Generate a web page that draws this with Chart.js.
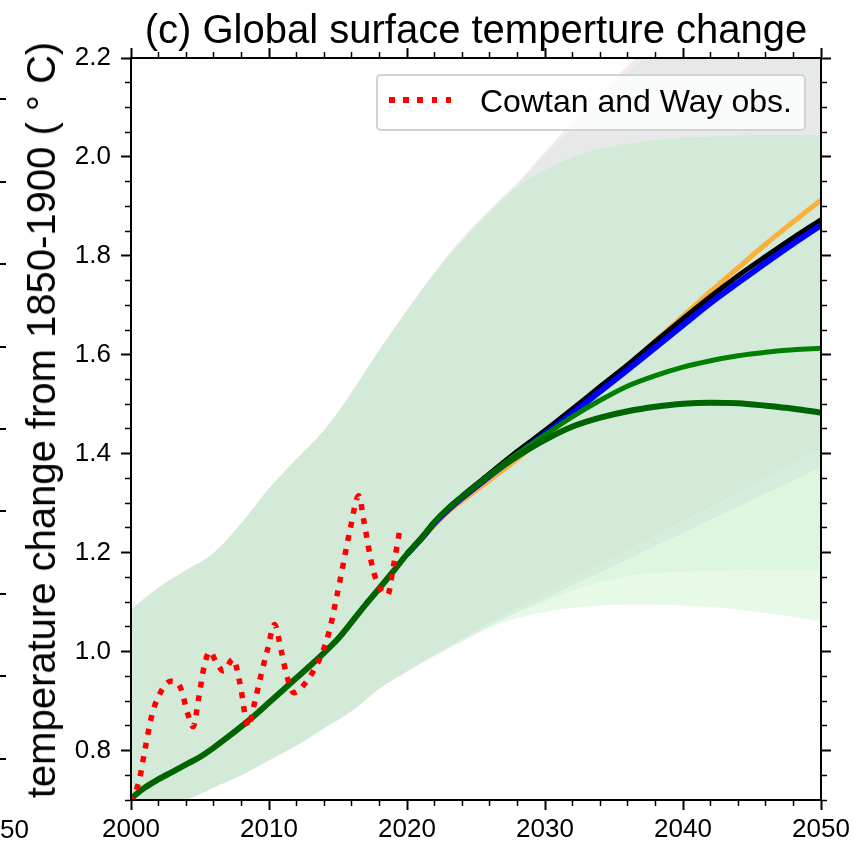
<!DOCTYPE html>
<html>
<head>
<meta charset="utf-8">
<title>(c) Global surface temperture change</title>
<script src="https://cdn.jsdelivr.net/npm/chart.js@4.4.1/dist/chart.umd.min.js"></script>
<style>
  html, body { margin: 0; padding: 0; background: #fff; overflow: hidden; }
  #wrap { position: relative; width: 854px; height: 846px; overflow: hidden;
          font-family: 'Liberation Sans', Arial, Helvetica, sans-serif; color: #000; }
  #chart { position: absolute; left: 0; top: 0; }
  #title { position: absolute; left: 131px; top: 9px; width: 690px; text-align: center;
           font-size: 40px; line-height: 40px; white-space: nowrap; }
  #ylabel { position: absolute; left: 41px; top: 420px; font-size: 40px; line-height: 40px;
            white-space: nowrap; transform: translate(-50%, -50%) rotate(-90deg); }
  #legend { position: absolute; left: 376px; top: 74px; width: 426px; height: 53px;
            border: 2px solid #d2d2d2; border-radius: 5px; background: rgba(255,255,255,0.8); }
  #legend .sample { position: absolute; left: 11px; top: 21px; width: 63px; height: 6px;
            background: repeating-linear-gradient(to right, #ff0000 0 5.7px, transparent 5.7px 14.2px); }
  #legend .text { position: absolute; left: 102px; top: 9px; font-size: 32px; line-height: 32px; white-space: nowrap; }
  /* edge of the neighbouring panel */
  #nbTicks { position: absolute; left: 0; top: 17.6px; width: 6px; height: 760px;
             background: repeating-linear-gradient(to bottom, transparent 0 80.4px, #000 80.4px 82.4px); }
  #nbLabel { position: absolute; left: -29px; top: 816px; font-size: 26px; line-height: 26px; }
</style>
</head>
<body>
<div id="wrap">
  <canvas id="chart" width="854" height="846"></canvas>
  <div id="title"></div>
  <div id="ylabel"></div>
  <div id="legend"><div class="sample"></div><div class="text"></div></div>
  <div id="nbTicks"></div>
  <div id="nbLabel">2050</div>
</div>
<script>
const titleText = '(c) Global surface temperture change';
const yTitle = 'temperature change from 1850-1900 ( \u00b0 C)';
const obsLabel = 'Cowtan and Way obs.';

// band edges, every second year
const bandYears = [2000, 2002, 2004, 2006, 2008, 2010, 2012, 2014, 2016, 2018, 2020, 2022, 2024,
  2026, 2028, 2030, 2032, 2034, 2036, 2038, 2040, 2042, 2044, 2046, 2048, 2050];
const mainUpper = [1.085, 1.13, 1.165, 1.2, 1.26, 1.33, 1.39, 1.448, 1.525, 1.61, 1.69, 1.765, 1.83,
  1.89, 1.94, 1.975, 2.0, 2.018, 2.028, 2.035, 2.04, 2.042, 2.044, 2.045, 2.045, 2.045];
const mainLower = [0.66, 0.68, 0.70, 0.725, 0.75, 0.78, 0.81, 0.845, 0.88, 0.925, 0.96, 0.993, 1.025,
  1.058, 1.088, 1.117, 1.146, 1.175, 1.204, 1.233, 1.262, 1.291, 1.32, 1.35, 1.379, 1.408];
const lower2 = [0.66, 0.68, 0.70, 0.725, 0.75, 0.78, 0.81, 0.845, 0.88, 0.925, 0.96, 0.993, 1.024,
  1.053, 1.08, 1.107, 1.133, 1.16, 1.186, 1.213, 1.239, 1.266, 1.292, 1.319, 1.345, 1.372];
const lower3 = [0.66, 0.68, 0.70, 0.725, 0.75, 0.78, 0.81, 0.845, 0.88, 0.925, 0.96, 0.992, 1.021,
  1.05, 1.078, 1.10, 1.123, 1.14, 1.152, 1.158, 1.161, 1.163, 1.164, 1.165, 1.165, 1.165];
const lower4 = [0.66, 0.68, 0.70, 0.725, 0.75, 0.78, 0.81, 0.845, 0.88, 0.925, 0.96, 0.99, 1.02,
  1.048, 1.068, 1.08, 1.088, 1.093, 1.095, 1.095, 1.093, 1.09, 1.085, 1.078, 1.07, 1.062];
const otherUpper = [1.085, 1.13, 1.165, 1.2, 1.26, 1.33, 1.39, 1.448, 1.525, 1.61, 1.69, 1.767, 1.835,
  1.893, 1.947, 2.005, 2.06, 2.115, 2.17, 2.225, 2.28, 2.33, 2.38, 2.43, 2.48, 2.53];
const pinkUpper = [1.085, 1.13, 1.165, 1.2, 1.26, 1.33, 1.39, 1.448, 1.525, 1.61, 1.69, 1.767, 1.835,
  1.893, 1.948, 2.01, 2.072, 2.128, 2.184, 2.24, 2.295, 2.345, 2.395, 2.445, 2.495, 2.545];

// historical mean, 2000-2019
const histYears = [2000, 2001, 2002, 2003, 2004, 2005, 2006, 2007, 2008, 2009, 2010,
  2011, 2012, 2013, 2014, 2015, 2016, 2017, 2018, 2019];
const histMean = [0.703, 0.725, 0.742, 0.757, 0.772, 0.787, 0.806, 0.827, 0.849, 0.872, 0.897,
  0.922, 0.947, 0.972, 0.998, 1.026, 1.06, 1.095, 1.128, 1.162];

// scenario means, 2020-2050
const scenYears = [2020, 2021, 2022, 2023, 2024, 2026, 2028, 2030, 2032, 2034, 2036, 2038,
  2040, 2042, 2044, 2046, 2048, 2050];
const darkGreen = [1.197, 1.228, 1.262, 1.29, 1.313, 1.357, 1.395, 1.428, 1.455, 1.473, 1.486, 1.495,
  1.501, 1.503, 1.502, 1.497, 1.491, 1.483];
const brightGreen = [1.197, 1.228, 1.262, 1.29, 1.313, 1.358, 1.40, 1.438, 1.475, 1.508, 1.537, 1.558,
  1.575, 1.588, 1.598, 1.605, 1.61, 1.613];
const black = [1.197, 1.228, 1.262, 1.29, 1.315, 1.36, 1.405, 1.447, 1.491, 1.536, 1.58, 1.627,
  1.673, 1.718, 1.76, 1.799, 1.837, 1.873];
const blue = [1.197, 1.227, 1.26, 1.287, 1.311, 1.355, 1.398, 1.44, 1.482, 1.526, 1.57, 1.615,
  1.66, 1.705, 1.746, 1.786, 1.825, 1.862];
const orange = [1.197, 1.226, 1.256, 1.283, 1.305, 1.347, 1.39, 1.434, 1.48, 1.528, 1.577, 1.628,
  1.678, 1.728, 1.776, 1.824, 1.869, 1.913];

// Cowtan and Way observations
const obsYears = [2000.0, 2000.6, 2001.0, 2001.5, 2002.0, 2002.9, 2003.6, 2004.1, 2004.5, 2004.9,
  2005.3, 2005.7, 2006.2, 2006.7, 2007.4, 2007.9, 2008.5, 2008.9, 2009.4, 2009.9, 2010.4, 2010.9,
  2011.3, 2011.8, 2012.6, 2013.3, 2013.9, 2014.4, 2014.9, 2015.4, 2015.9, 2016.5, 2016.9, 2017.5,
  2018.0, 2018.6, 2019.0, 2019.5];
const obsValues = [0.695, 0.74, 0.80, 0.87, 0.91, 0.94, 0.926, 0.875, 0.848, 0.905,
  0.97, 1.0, 0.977, 0.961, 0.985, 0.935, 0.848, 0.89, 0.95, 1.005, 1.055, 1.0,
  0.95, 0.917, 0.935, 0.965, 1.0, 1.045, 1.11, 1.18, 1.25, 1.315, 1.26, 1.17,
  1.13, 1.115, 1.17, 1.25];

const xTicks = { min: 2000, max: 2050, step: 2, major: 10 };
const yTicks = { min: 0.7, max: 2.2, step: 0.05, major: 0.2 };

document.getElementById('title').textContent = titleText;
document.getElementById('ylabel').textContent = yTitle;
document.querySelector('#legend .text').textContent = obsLabel;

function pts(xs, ys) {
  return xs.map((x, i) => ({ x: x, y: ys[i] }));
}

function edge(ys, target, color) {
  return {
    data: pts(bandYears, ys),
    borderColor: 'rgba(0,0,0,0)',
    borderWidth: 0,
    backgroundColor: color || 'rgba(0,0,0,0)',
    fill: target === null ? false : target,
    pointRadius: 0,
    cubicInterpolationMode: 'monotone',
    order: 10
  };
}

function line(label, xs, ys, color, width, order) {
  return {
    label,
    data: pts(xs, ys),
    borderColor: color,
    borderWidth: width,
    fill: false,
    pointRadius: 0,
    cubicInterpolationMode: 'monotone',
    borderCapStyle: 'butt',
    order
  };
}

const isMajorX = v => Math.round(v) % xTicks.major === 0;
const isMajorY = v => Math.round(v * 20) % 4 === 0;

// minor ticks are the inner 5px of a 10px tick
function axis(id, position, t, isMajor, labels, size) {
  const outerFirst = position === 'top' || position === 'left';
  return {
    type: 'linear',
    position,
    min: t.min,
    max: t.max,
    border: { display: true, color: '#000', width: 2, z: 1 },
    grid: {
      z: 1,
      drawOnChartArea: false,
      drawTicks: true,
      tickLength: 10,
      tickColor: '#000',
      tickWidth: ctx => (isMajor(ctx.tick.value) ? 2 : 1.5),
      tickBorderDash: ctx => (isMajor(ctx.tick.value) ? [] : (outerFirst ? [0, 4, 5, 100] : [5, 100]))
    },
    ticks: {
      z: 1,
      display: labels,
      stepSize: t.step,
      autoSkip: false,
      maxRotation: 0,
      color: '#000',
      padding: id === 'y' ? 10 : 4,
      font: { size: 26 },
      callback: v => (isMajor(v) ? (id === 'y' ? v.toFixed(1) : String(Math.round(v))) : '')
    },
    afterFit: s => {
      if (s.isHorizontal()) s.height = size; else s.width = size;
    }
  };
}

Chart.defaults.font.family = "'Liberation Sans', Arial, Helvetica, sans-serif";
Chart.defaults.color = '#000';

new Chart(document.getElementById('chart'), {
  type: 'line',
  data: {
    datasets: [
      edge(mainLower, null),                 // 0
      edge(mainUpper, 0, '#d4ead8'),         // 1 main band
      edge(lower2, 0, '#d3eedc'),            // 2
      edge(lower3, 2, '#ddf6de'),            // 3
      edge(lower4, 3, '#e7f9e7'),            // 4
      edge(otherUpper, 1, '#e6e8ea'),        // 5 faint upper bands
      edge(pinkUpper, 5, '#f5e9ee'),         // 6
      line('orange', scenYears, orange, '#fab03c', 5, 5),
      line('black', scenYears, black, '#000000', 5, 4),
      line('blue', scenYears, blue, '#0000ff', 6, 3),
      line('green', scenYears, brightGreen, '#008000', 5, 2),
      line('dark green', histYears.concat(scenYears), histMean.concat(darkGreen), '#006400', 6, 1),
      Object.assign(line(obsLabel, obsYears, obsValues, '#ff0000', 5.5, 0), { borderDash: [6, 8] })
    ]
  },
  options: {
    responsive: false,
    devicePixelRatio: 1,
    animation: false,
    events: [],
    layout: { padding: 0 },
    plugins: { legend: { display: false }, tooltip: { enabled: false }, title: { display: false } },
    scales: {
      x: axis('x', 'bottom', xTicks, isMajorX, true, 46),
      x2: axis('x2', 'top', xTicks, isMajorX, false, 58),
      y: axis('y', 'left', yTicks, isMajorY, true, 131),
      y2: axis('y2', 'right', yTicks, isMajorY, false, 33)
    }
  }
});
</script>
</body>
</html>
